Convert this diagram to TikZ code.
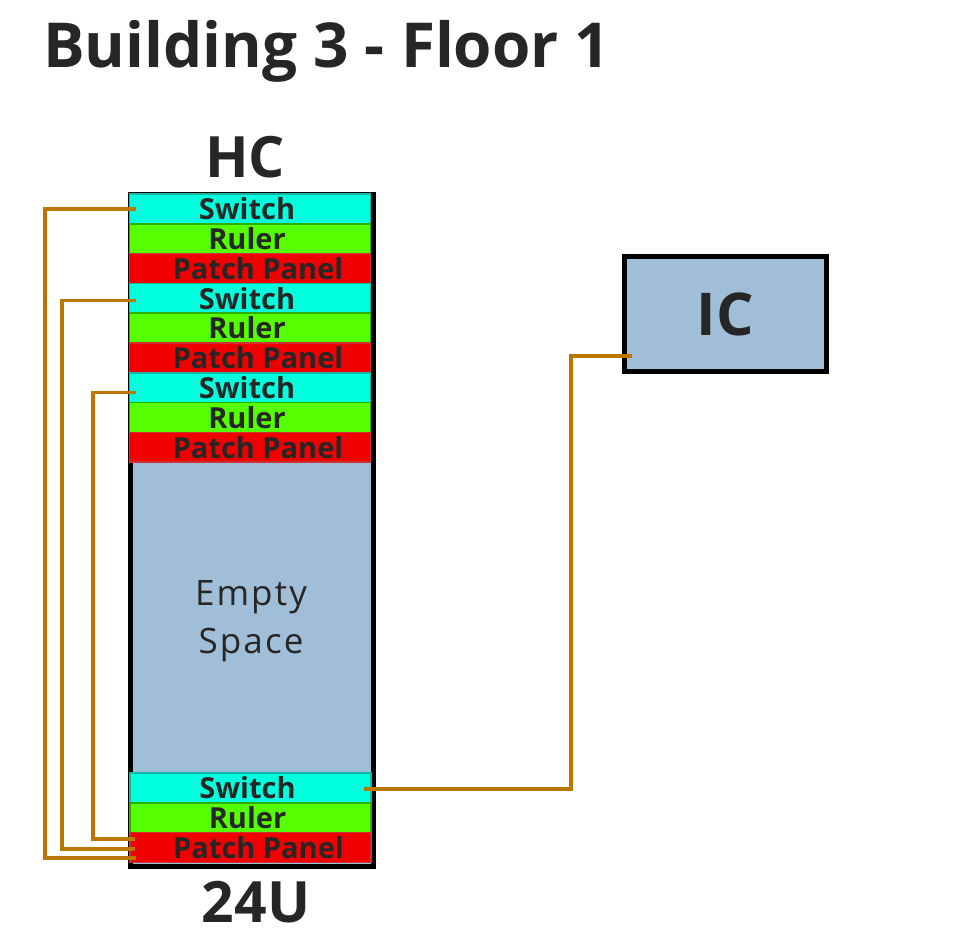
\documentclass[tikz,border=0pt]{standalone}
\usepackage{fontspec}
\setmainfont{Open Sans}
\usepackage{tikz}
\usetikzlibrary{positioning,calc}
\usepackage{xcolor}

\definecolor{swfill}{RGB}{0,255,221}
\definecolor{swedge}{RGB}{20,185,165}
\definecolor{rufill}{RGB}{85,255,0}
\definecolor{ruedge}{RGB}{45,175,0}
\definecolor{ppfill}{RGB}{240,0,0}
\definecolor{ppedge}{RGB}{205,50,50}
\definecolor{spaceblue}{RGB}{160,190,216}
\definecolor{cablebrown}{RGB}{186,120,0}
\definecolor{inkgray}{RGB}{38,38,38}

\tikzset{
  unitrow/.style={rectangle, minimum width=241pt, minimum height=29.8pt,
    inner sep=0pt, outer sep=0pt, line width=1.5pt},
  switchrow/.style={unitrow, fill=swfill, draw=swedge},
  rulerrow/.style={unitrow, fill=rufill, draw=ruedge},
  patchrow/.style={unitrow, fill=ppfill, draw=ppedge},
  rowtext/.style={font=\bfseries\fontsize{29}{30}\selectfont, text=inkgray, inner sep=0pt},
  biglabel/.style={font=\bfseries\fontsize{57}{60}\selectfont, text=inkgray, inner sep=0pt},
  cable/.style={draw=cablebrown, line width=3.5pt}
}

\begin{document}
\begin{tikzpicture}[x=1pt, y=-1pt]
\useasboundingbox (0,0) rectangle (956,944);

% Title
\node[font=\bfseries\fontsize{62}{66}\selectfont, text=inkgray, anchor=base west, inner sep=0pt]
  (title) at (43,68) {Building 3 - Floor 1};

% Rack body
\node[rectangle, draw=black, fill=spaceblue, line width=4.6pt, inner sep=0pt,
  minimum width=243pt, minimum height=672pt, anchor=north west] (rack) at (128.3,192.3) {};

% Upper units: switch / ruler / patch panel
\foreach \g/\ytop in {1/194, 2/283.4, 3/372.8} {
  \node[switchrow, anchor=north west] (sw\g) at (129.5,\ytop) {};
  \node[rulerrow, below=0pt of sw\g] (ru\g) {};
  \node[patchrow, below=0pt of ru\g] (pp\g) {};
}

% Lower unit
\node[switchrow, anchor=north west] (sw4) at (130,773) {};
\node[rulerrow, below=0pt of sw4] (ru4) {};
\node[patchrow, below=0pt of ru4] (pp4) {};

% Unit labels
\foreach \g in {1,...,4} {
  \node[rowtext, xshift=-3pt] (swt\g) at (sw\g) {Switch};
  \node[rowtext, xshift=-3pt] (rut\g) at (ru\g) {Ruler};
  \node[rowtext, xshift=8pt] (ppt\g) at (pp\g) {Patch Panel};
}

% Empty space
\node[font=\fontsize{35}{48}\selectfont, text=inkgray, align=center, inner sep=0pt]
  (empty) at (251,621) {\addfontfeatures{LetterSpace=6}Empty\\\addfontfeatures{LetterSpace=6}Space};

% Rack labels
\node[biglabel] (hc) at (245,157.5) {HC};
\node[biglabel] (size) at (256,902.5) {24U};

% Intermediate closet
\node[rectangle, draw=black, fill=spaceblue, line width=5pt, inner sep=0pt,
  minimum width=202pt, minimum height=115pt] (ic) at (725.5,314) {};
\node[font=\bfseries\fontsize{59}{60}\selectfont, text=inkgray, inner sep=0pt] (ict) at (ic) {IC};

% Patch cables
\draw[cable] ([xshift=6pt]sw1.west) -- ++(-90.5,0) |- ([xshift=6pt,yshift=-10.5pt]pp4.west);
\draw[cable] ([xshift=6pt,yshift=-2pt]sw2.west) -- ++(-73.5,0) |- ([xshift=5pt,yshift=-1.5pt]pp4.west);
\draw[cable] ([xshift=6pt,yshift=-5pt]sw3.west) -- ++(-42.5,0) |- ([xshift=5pt,yshift=8.5pt]pp4.west);

% Uplink to IC
\draw[cable] ([xshift=-7pt,yshift=-1pt]sw4.east) -- ++(207,0) |- ([xshift=10pt,yshift=-42pt]ic.west);

\end{tikzpicture}
\end{document}
